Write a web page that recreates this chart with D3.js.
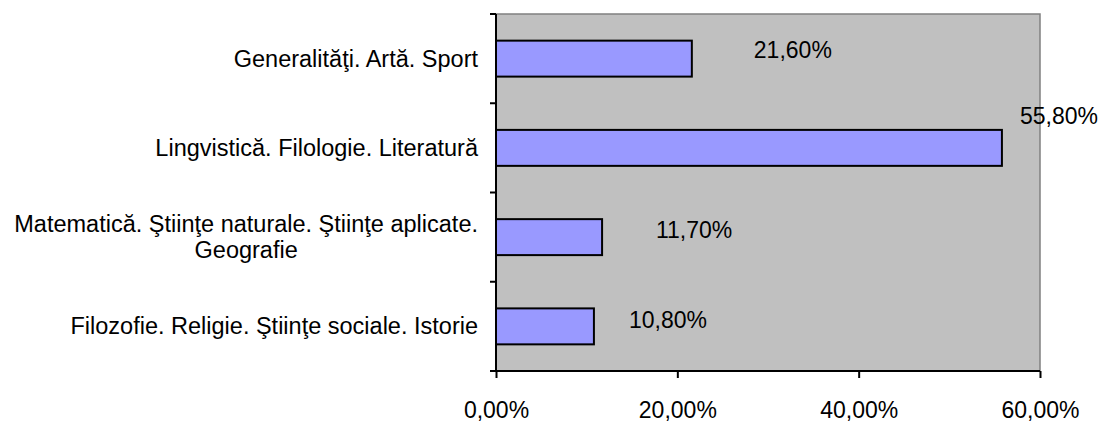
<!DOCTYPE html>
<html><head><meta charset="utf-8">
<script src="https://cdn.jsdelivr.net/npm/d3@7"></script>
<style>
html,body{margin:0;padding:0;background:#fff;}
svg text{font-family:"Liberation Sans",Arial,sans-serif;fill:#000;}
</style></head>
<body>
<svg id="chart" width="1103" height="423"></svg>
<script>
// ---- data ----
const categories = [
  "Generalităţi. Artă. Sport",
  "Lingvistică. Filologie. Literatură",
  "Matematică. Ştiinţe naturale. Ştiinţe aplicate.\nGeografie",
  "Filozofie. Religie. Ştiinţe sociale. Istorie"
];
const values = [21.6, 55.8, 11.7, 10.8];
const valueLabels = ["21,60%", "55,80%", "11,70%", "10,80%"];
const xTicks = [0, 20, 40, 60];
const xTickLabels = ["0,00%", "20,00%", "40,00%", "60,00%"];
// label placement (layout, relative to bar end / bar centre)
const labelShift = [[101, -9], [57, -32], [92, -7], [74, -6]];

// ---- layout ----
const svg = d3.select("#chart");
const plot = {left: 496, right: 1040, top: 14, bottom: 371};
const fs = 23;
const catFs = 23.5;

const x = d3.scaleLinear().domain([0, 60]).range([plot.left, plot.right]);
const y = d3.scaleBand().domain(categories).range([plot.top, plot.bottom])
  .paddingInner(0.597).paddingOuter(0.2985);

// plot background
svg.append("rect").attr("x", plot.left).attr("y", plot.top)
  .attr("width", plot.right - plot.left).attr("height", plot.bottom - plot.top)
  .attr("fill", "#C0C0C0").attr("stroke", "#808080").attr("stroke-width", 1.5);

// bars
svg.selectAll("rect.bar").data(values).enter().append("rect")
  .attr("class", "bar")
  .attr("x", x(0))
  .attr("y", (d, i) => y(categories[i]))
  .attr("width", d => x(d) - x(0))
  .attr("height", y.bandwidth())
  .attr("fill", "#9999FF").attr("stroke", "#000").attr("stroke-width", 2);

// value labels
svg.selectAll("text.vl").data(values).enter().append("text")
  .attr("class", "vl")
  .attr("x", (d, i) => x(d) + labelShift[i][0])
  .attr("y", (d, i) => y(categories[i]) + y.bandwidth() / 2 + labelShift[i][1])
  .attr("text-anchor", "middle").attr("dominant-baseline", "central")
  .style("font-size", fs + "px")
  .text((d, i) => valueLabels[i]);

// x axis
const xAxis = d3.axisBottom(x).tickValues(xTicks)
  .tickFormat((d, i) => xTickLabels[i]).tickSize(7).tickPadding(24);
const gx = svg.append("g").attr("transform", `translate(0,${plot.bottom})`).call(xAxis);
gx.select(".domain").attr("stroke", "#000").attr("stroke-width", 2)
  .attr("d", `M${plot.left - 6},0H${plot.right}`);
gx.selectAll(".tick line").attr("stroke", "#000").attr("stroke-width", 2);
gx.selectAll(".tick text").style("font-size", fs + "px").attr("fill", "#000");

// y axis: line + ticks at category boundaries
svg.append("line").attr("x1", plot.left).attr("x2", plot.left)
  .attr("y1", plot.top).attr("y2", plot.bottom)
  .attr("stroke", "#000").attr("stroke-width", 2);
const bounds = categories.map(c => y(c) - y.step() * y.paddingInner() / 2)
  .concat([plot.bottom]);
svg.selectAll("line.yt").data(bounds).enter().append("line")
  .attr("class", "yt")
  .attr("x1", plot.left - 6).attr("x2", plot.left)
  .attr("y1", d => d).attr("y2", d => d)
  .attr("stroke", "#000").attr("stroke-width", 2);

// category labels
const labelRight = 478, lineH = 26;
categories.forEach(c => {
  const lines = c.split("\n");
  const cy = y(c) + y.bandwidth() / 2;
  const t = svg.append("text").style("font-size", catFs + "px")
    .attr("dominant-baseline", "central");
  const spans = lines.map((ln, k) => t.append("tspan").text(ln));
  const widths = spans.map(s => s.node().getComputedTextLength());
  const maxW = d3.max(widths);
  const cx = labelRight - maxW / 2;
  spans.forEach((s, k) => {
    s.attr("x", lines.length > 1 ? cx : labelRight)
     .attr("text-anchor", lines.length > 1 ? "middle" : "end")
     .attr("y", cy + (k - (lines.length - 1) / 2) * lineH);
  });
});
</script>
</body></html>
